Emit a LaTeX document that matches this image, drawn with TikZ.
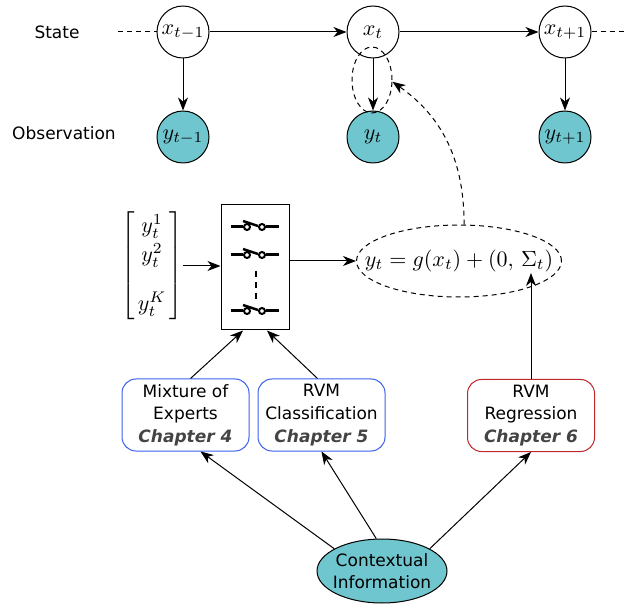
\RequirePackage{fix-cm}
\documentclass[tikz,border=0pt]{standalone}
\usepackage{fontspec}
\setsansfont{DejaVu Sans}
\usetikzlibrary{arrows.meta,shapes.geometric}
\definecolor{obsteal}{HTML}{70C6CE}
\definecolor{chapblue}{HTML}{3A5FEF}
\definecolor{chapred}{HTML}{C0272D}
\definecolor{chapgray}{HTML}{444444}
\newcommand{\chapline}[1]{{\color{chapgray}\bfseries\itshape Chapter #1}}

\begin{document}
\begin{tikzpicture}
    [x=0.5pt,y=-0.5pt,line width=0.5pt,>={Stealth[length=6.5pt,width=5pt,inset=2pt]},
    mathfont/.style={font=\fontsize{11}{14.5}\selectfont},
    hidnode/.style={circle,draw,minimum size=26pt,inner sep=0pt,mathfont},
    obsnode/.style={hidnode,fill=obsteal},
    rowtext/.style={font=\sffamily\fontsize{8.5}{11}\selectfont},
    chapbox/.style={draw,rounded corners=7pt,minimum width=63.5pt,minimum height=36pt,
        align=center,inner sep=1pt,font=\sffamily\fontsize{8.5}{11.3}\selectfont},
    dashline/.style={dash pattern=on 2.5pt off 2pt},
    switchline/.style={line width=1.5pt}]
    \useasboundingbox (0,0) rectangle (627,604);
    %row labels
    \node[rowtext] (lstate) at (57,32) {State};
    \node[rowtext] (lobs) at (64,133) {Observation};
    %states
    \node[hidnode] (x1) at (183,32) {$x_{t-1}$};
    \node[hidnode] (x2) at (373,32) {$x_t$};
    \node[hidnode] (x3) at (565,32) {$x_{t+1}$};
    %observations
    \node[obsnode] (y1) at (183,137) {$y_{t-1}$};
    \node[obsnode] (y2) at (373,137) {$y_t$};
    \node[obsnode] (y3) at (565,137) {$y_{t+1}$};
    \coordinate (lin) at (118,32);
    \coordinate (rout) at (627,32);
    \draw[dashline] (lin)--(x1);
    \draw[dashline] (x3)--(rout);
    \draw[->] (x1)--(x2);
    \draw[->] (x2)--(x3);
    \draw[->] (x1)--(y1);
    \draw[->] (x2)--(y2);
    \draw[->] (x3)--(y3);
    \node[ellipse,draw,dashline,minimum width=20pt,minimum height=33pt] (sel) at (372,80) {};
    %experts vector and switch
    \node[mathfont,inner sep=0pt] (vec) at (152,266)
    {$\setlength{\arraycolsep}{1.5pt}\left[\begin{array}{c} y_t^1\\ y_t^2\\[10pt] y_t^K\end{array}\right]$};
    \node[draw,minimum width=34pt,minimum height=62.5pt] (sw) at (255,267.5) {};
    \foreach \sy in {227,255,311}{
        \draw[switchline] (231,\sy)--(243,\sy);
        \draw[switchline] (266,\sy)--(279,\sy);
        \draw[line width=1pt] (247,\sy) circle (3);
        \draw[line width=1pt] (262,\sy) circle (3);
        \draw[line width=1.2pt] (243,\sy-6)--(258,\sy-1);
    }
    \draw[line width=0.7pt,dash pattern=on 3pt off 2.5pt] (256,271)--(256,300);
    %observation model
    \node[ellipse,draw,dashline,mathfont,inner xsep=-16pt,inner ysep=0pt,
    minimum width=102.5pt,minimum height=36pt]
    (eq) at (459,261) {$y_t = g(x_t) + (0,\,\Sigma_t)$};
    \draw[->] (vec.east)--(sw.west |- vec.east);
    \draw[->] (sw.east |- eq.west)--(eq.west);
    \draw[dashline,->] (eq.82) to[out=90,in=-35] (sel.-5);
    %chapters
    \node[chapbox,draw=chapblue] (mix) at (185.5,415) {Mixture of\\Experts\\\chapline{4}};
    \node[chapbox,draw=chapblue] (cls) at (321.5,415) {RVM\\Classification\\\chapline{5}};
    \node[chapbox,draw=chapred] (reg) at (531,415.5) {RVM\\Regression\\\chapline{6}};
    \coordinate (sig) at (531,273);
    \draw[->] ([xshift=2.5pt]mix.north)--([xshift=-6pt]sw.south);
    \draw[->] ([xshift=-2pt]cls.north)--([xshift=6pt]sw.south);
    \draw[->] (reg)--(sig);
    %context
    \node[ellipse,draw,fill=obsteal,rowtext,align=center,inner xsep=-4pt,inner ysep=0pt,
    minimum width=65pt,minimum height=32pt] (ctx) at (382,571) {Contextual\\Information};
    \draw[->] (ctx.155)--([xshift=7.5pt]mix.south);
    \draw[->] (ctx.100)--(cls.south);
    \draw[->] (ctx.25)--(reg.south);
\end{tikzpicture}
\end{document}
